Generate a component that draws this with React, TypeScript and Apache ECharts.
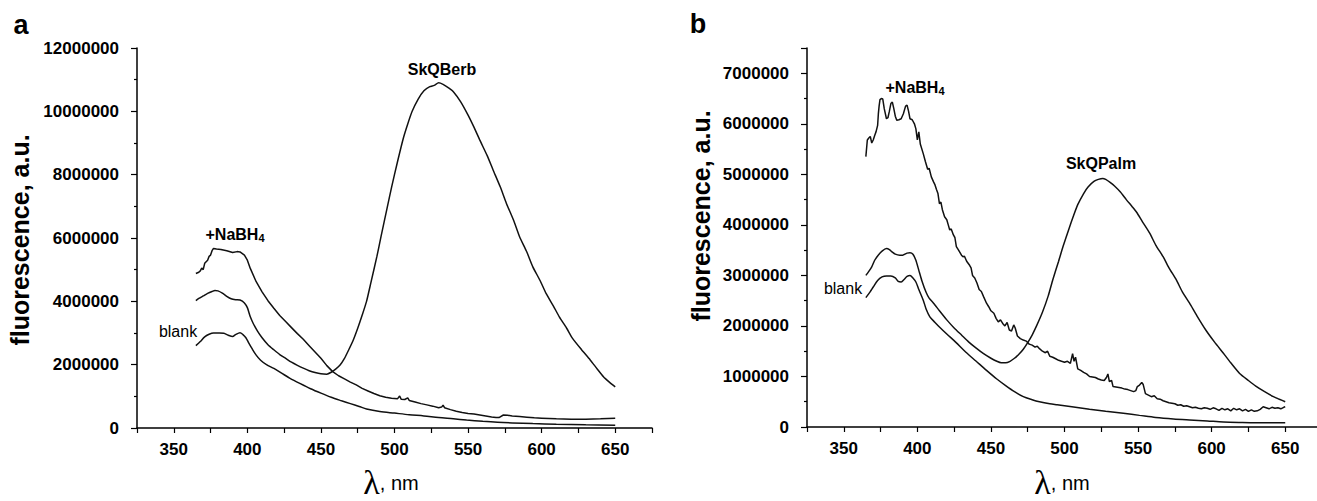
import React, { useEffect, useRef } from "react";
import * as echarts from "echarts";

// values in millions of a.u., wavelength in nm
const aNaBH4: [number, number][] = [[365,4.88],[367,4.92],[368,4.96],[369,5.05],[370,5.0],[371,5.2],[372,5.25],[373,5.3],[374,5.42],[375,5.46],[376,5.6],[377,5.67],[379,5.65],[382,5.64],[386,5.6],[390,5.54],[393,5.57],[395,5.56],[398,5.46],[400,5.3],[402,5.04],[406,4.62],[410,4.3],[414,4.02],[418,3.78],[422,3.55],[426,3.36],[430,3.17],[434,2.98],[438,2.8],[442,2.6],[446,2.4],[450,2.2],[454,1.97],[458,1.78],[462,1.65],[466,1.55],[470,1.45],[474,1.36],[478,1.25],[482,1.17],[486,1.09],[490,1.02],[494,0.97],[498,0.94],[502,0.92],[503.5,1.01],[504.5,0.91],[507,0.9],[509,0.95],[510,0.87],[514,0.82],[518,0.77],[522,0.73],[526,0.69],[530,0.64],[532,0.66],[533,0.72],[534,0.64],[538,0.58],[542,0.53],[546,0.49],[550,0.46],[554,0.44],[558,0.41],[562,0.38],[566,0.35],[569,0.33],[571,0.33],[574,0.41],[577,0.4],[580,0.38],[585,0.36],[590,0.34],[595,0.32],[600,0.31],[610,0.29],[620,0.28],[630,0.28],[640,0.29],[650,0.31]];
const aBerb: [number, number][] = [[365,4.02],[367,4.09],[370,4.17],[373,4.25],[376,4.31],[378,4.34],[380,4.33],[383,4.26],[386,4.16],[389,4.08],[392,4.05],[395,4.04],[398,3.95],[400,3.8],[402,3.51],[404,3.3],[407,3.05],[410,2.85],[414,2.63],[418,2.47],[422,2.32],[426,2.2],[430,2.08],[434,1.98],[438,1.89],[442,1.81],[446,1.75],[450,1.71],[454,1.7],[457,1.76],[460,1.86],[463,1.99],[466,2.2],[469,2.48],[472,2.78],[475,3.15],[478,3.56],[481,4.0],[484,4.6],[488,5.41],[491,6.08],[495,6.95],[498,7.6],[502,8.4],[506,9.15],[509,9.6],[512,10.0],[516,10.38],[520,10.65],[524,10.78],[527,10.82],[530,10.9],[533,10.85],[537,10.73],[540,10.62],[545,10.3],[550,9.88],[554,9.5],[558,9.09],[563,8.6],[567,8.15],[572,7.6],[576,7.1],[581,6.55],[585,6.04],[590,5.55],[594,5.09],[599,4.65],[603,4.25],[608,3.85],[612,3.51],[617,3.15],[621,2.83],[627,2.48],[633,2.15],[638,1.85],[642,1.62],[646,1.45],[650,1.3]];
const aBlank: [number, number][] = [[365,2.6],[368,2.73],[371,2.88],[374,2.96],[377,3.0],[381,3.0],[384,2.99],[387,2.93],[390,2.89],[392,2.95],[395,3.01],[397,2.95],[399,2.85],[401,2.68],[403,2.52],[406,2.3],[409,2.14],[413,2.0],[418,1.88],[423,1.74],[429,1.57],[436,1.4],[443,1.24],[450,1.1],[457,0.97],[464,0.86],[470,0.77],[476,0.68],[481,0.6],[490,0.52],[500,0.47],[510,0.42],[520,0.38],[530,0.33],[540,0.29],[549,0.25],[560,0.21],[570,0.18],[580,0.16],[594,0.14],[610,0.12],[630,0.1],[650,0.09]];

const bNaBH4: [number, number][] = [[365,5.35],[366,5.68],[367,5.72],[368,5.75],[369,5.62],[370,5.68],[371,5.77],[372,5.85],[373,5.97],[373.5,6.2],[374,6.35],[374.6,6.48],[375.5,6.5],[376.5,6.49],[377.5,6.3],[379,6.1],[380,6.12],[381,6.25],[382,6.4],[383,6.43],[384,6.3],[385,6.15],[386,6.07],[387.5,6.08],[389,6.1],[390.5,6.2],[392,6.35],[393,6.37],[394,6.25],[395,6.1],[396.5,6.08],[398,6.0],[399,5.9],[400,5.68],[401,5.84],[402,5.6],[404,5.41],[405.5,5.25],[407,5.1],[408,5.12],[409.5,4.95],[411,4.85],[412,4.79],[413,4.7],[414,4.62],[415,4.42],[416,4.45],[417,4.3],[418.5,4.16],[420,4.1],[421,4.0],[422,3.9],[423,3.92],[424.5,3.8],[425.5,3.75],[426.5,3.57],[428,3.5],[430,3.4],[431,3.37],[432,3.38],[433.5,3.28],[435.5,3.2],[436.5,3.15],[437.5,3.0],[439,2.95],[440.5,2.85],[442,2.72],[443.5,2.68],[445,2.58],[447,2.45],[448.5,2.38],[450,2.3],[452,2.25],[453.5,2.15],[455,2.08],[456.5,2.12],[458,2.05],[459.5,2.0],[461,2.07],[462.5,1.92],[464,1.9],[465.5,2.02],[466.5,1.96],[468,1.8],[470,1.75],[472,1.72],[474,1.7],[476,1.64],[478,1.62],[480,1.58],[481.5,1.6],[483,1.55],[485,1.5],[487,1.47],[488.5,1.5],[490,1.4],[492,1.38],[494,1.35],[496,1.32],[498,1.3],[500,1.28],[502,1.3],[504,1.26],[505.5,1.45],[506.5,1.3],[507.5,1.38],[509,1.15],[511,1.12],[513,1.08],[515,1.05],[517,1.0],[519,0.99],[521,0.98],[523,0.95],[525,0.93],[527,0.92],[528.5,0.98],[529.5,1.05],[530.5,0.9],[532,0.92],[533,0.8],[535,0.79],[537,0.78],[539,0.77],[541,0.75],[543,0.74],[545,0.72],[547,0.7],[548.5,0.72],[549.5,0.8],[551,0.83],[552.5,0.88],[553.5,0.84],[555,0.66],[557,0.63],[559,0.6],[561,0.62],[563,0.56],[565,0.55],[567,0.52],[569,0.5],[571,0.48],[573,0.47],[575,0.46],[577,0.43],[579,0.44],[581,0.41],[583,0.42],[585,0.4],[587,0.38],[589,0.39],[591,0.37],[593,0.36],[595,0.38],[597,0.37],[599,0.35],[601,0.38],[603,0.36],[605,0.33],[607,0.37],[609,0.34],[611,0.36],[613,0.32],[615,0.37],[617,0.34],[619,0.36],[621,0.32],[623,0.35],[625,0.31],[627,0.34],[629,0.31],[631,0.32],[633,0.35],[635,0.4],[637,0.38],[639,0.36],[641,0.39],[643,0.37],[645,0.38],[647,0.36],[649,0.39],[650,0.4]];
const bPalm: [number, number][] = [[365,3.0],[367,3.08],[369,3.17],[371,3.3],[373.4,3.4],[376,3.48],[379,3.53],[381,3.51],[383,3.46],[385,3.42],[388,3.4],[390,3.4],[393,3.44],[395,3.45],[397,3.42],[399,3.3],[401,3.1],[403,2.9],[406,2.66],[408,2.55],[411,2.45],[415,2.3],[420,2.12],[425,1.96],[430,1.82],[435,1.68],[440,1.56],[445,1.45],[450,1.36],[454,1.3],[457,1.27],[460,1.27],[463,1.3],[466,1.36],[469,1.44],[472,1.54],[475,1.67],[478,1.82],[481,2.0],[485,2.27],[489,2.6],[492,2.91],[496,3.28],[499,3.57],[503,3.92],[506,4.17],[509,4.4],[513,4.62],[516,4.75],[520,4.86],[523,4.9],[526,4.92],[528,4.9],[531,4.84],[534,4.77],[538,4.65],[542,4.5],[546,4.36],[549,4.25],[553,4.06],[558,3.83],[562,3.6],[567,3.37],[571,3.15],[576,2.91],[580,2.68],[585,2.45],[590,2.2],[596,1.92],[602,1.68],[608,1.46],[613,1.27],[619,1.06],[625,0.92],[630,0.81],[636,0.7],[642,0.6],[646,0.55],[650,0.5]];
const bBlank: [number, number][] = [[365,2.56],[368,2.68],[370,2.77],[373,2.9],[376,2.97],[379,2.99],[382,2.99],[385,2.95],[387,2.88],[389,2.87],[391,2.92],[393,2.98],[395,3.0],[397,2.95],[399,2.87],[401,2.72],[404,2.51],[406,2.33],[408.5,2.18],[412,2.07],[415,1.98],[420,1.84],[426,1.68],[433,1.48],[440,1.3],[447,1.12],[454,0.95],[460,0.82],[466,0.7],[472,0.6],[478,0.54],[483,0.5],[490,0.46],[495,0.44],[505,0.4],[517,0.35],[528,0.31],[540,0.27],[551,0.23],[562,0.19],[574,0.16],[585,0.14],[597,0.12],[608,0.1],[620,0.09],[630,0.085],[650,0.085]];

const xTickLabels = [350, 400, 450, 500, 550, 600, 650];
const aYTickLabels = [0, 2000000, 4000000, 6000000, 8000000, 10000000, 12000000];
const bYTickLabels = [0, 1000000, 2000000, 3000000, 4000000, 5000000, 6000000, 7000000];

const SANS = '"Liberation Sans", Arial, Helvetica, sans-serif';
const SERIF = '"Liberation Serif", "Times New Roman", serif';

const toData = (arr: [number, number][]) => arr.map(([x, y]) => [x, y * 1e6]);

export default function App() {
  const ref = useRef<HTMLDivElement>(null);
  useEffect(() => {
    if (!ref.current) return;
    const chart = echarts.init(ref.current, undefined, { renderer: "svg" });

    const xAxis = (gridIndex: number) => ({
      type: "value",
      gridIndex,
      min: 325,
      max: 675,
      interval: 25,
      axisLine: { show: true, onZero: false, lineStyle: { color: "#000", width: 1.5 } },
      axisTick: { show: true, inside: false, length: 5, lineStyle: { color: "#000", width: 1.2 } },
      axisLabel: {
        formatter: (v: number) => (xTickLabels.includes(v) ? String(v) : ""),
        fontSize: 17, fontWeight: "bold", color: "#000", fontFamily: SANS, margin: 13,
      },
      splitLine: { show: false },
    });
    const yAxis = (gridIndex: number, max: number, interval: number, labels: number[]) => ({
      type: "value",
      gridIndex,
      min: 0,
      max,
      interval,
      axisLine: { show: true, onZero: false, lineStyle: { color: "#000", width: 1.5 } },
      axisTick: { show: true, inside: false, length: 6, lineStyle: { color: "#000", width: 1.2 } },
      minorTick: { show: true, splitNumber: 2, length: 3, lineStyle: { color: "#000", width: 1.2 } },
      axisLabel: {
        formatter: (v: number) => (labels.includes(v) ? String(v) : ""),
        fontSize: 17, fontWeight: "bold", color: "#000", fontFamily: SANS, margin: 18,
      },
      splitLine: { show: false },
      minorSplitLine: { show: false },
    });
    const line = (data: [number, number][], xi: number, smooth: number | boolean) => ({
      type: "line",
      xAxisIndex: xi,
      yAxisIndex: xi,
      data: toData(data),
      showSymbol: false,
      symbol: "none",
      smooth,
      lineStyle: { color: "#111", width: 1.5 },
      silent: true,
    });

    const txt = (x: number, y: number, text: string, size: number, weight: string, extra: any = {}) => ({
      type: "text",
      x, y,
      style: { text, fontSize: size, fontWeight: weight, fontFamily: SANS, fill: "#000", align: "center", verticalAlign: "middle", ...extra },
    });
    const nabh = (x: number, y: number) => ({
      type: "text",
      x, y,
      style: {
        text: "{b|+NaBH}{s|4}",
        align: "center",
        verticalAlign: "middle",
        rich: {
          b: { fontSize: 16, fontWeight: "bold", fontFamily: SANS, fill: "#000", lineHeight: 22, verticalAlign: "middle" },
          s: { fontSize: 11, fontWeight: "bold", fontFamily: SANS, fill: "#000", lineHeight: 22, verticalAlign: "bottom", padding: [0, 0, 2, 0] },
        },
      },
    });
    const lambda = (x: number, y: number) => ({
      type: "text",
      x, y,
      style: {
        text: "{l|λ}{n|, nm}",
        align: "center",
        verticalAlign: "middle",
        rich: {
          l: { fontSize: 34, fontFamily: SERIF, fill: "#000", lineHeight: 36, verticalAlign: "bottom" },
          n: { fontSize: 20, fontFamily: SANS, fill: "#000", lineHeight: 36, verticalAlign: "bottom", padding: [0, 0, 6, 0] },
        },
      },
    });
    const ytitle = (x: number, y: number) => ({
      type: "text",
      x, y,
      rotation: Math.PI / 2,
      style: { text: "fluorescence, a.u.", fontSize: 25, fontWeight: "bold", fontFamily: SANS, fill: "#000", align: "center", verticalAlign: "middle" },
    });

    chart.setOption({
      animation: false,
      backgroundColor: "#fff",
      grid: [
        { left: 137, top: 48, width: 515, height: 380 },
        { left: 807, top: 48, width: 515, height: 379 },
      ],
      xAxis: [xAxis(0), xAxis(1)],
      yAxis: [yAxis(0, 12000000, 2000000, aYTickLabels), yAxis(1, 7500000, 1000000, bYTickLabels)],
      series: [
        line(aNaBH4, 0, false),
        line(aBerb, 0, 0.2),
        line(aBlank, 0, 0.3),
        line(bNaBH4, 1, false),
        line(bPalm, 1, 0.2),
        line(bBlank, 1, 0.3),
      ],
      graphic: [
        txt(21, 25, "a", 27, "bold"),
        txt(698, 24, "b", 27, "bold"),
        ytitle(20, 240),
        ytitle(701, 216),
        lambda(391, 481),
        lambda(1062, 481),
        txt(442, 69, "SkQBerb", 16, "bold"),
        nabh(235, 234),
        txt(178, 331, "blank", 16, "normal"),
        nabh(915, 87),
        txt(1101, 163, "SkQPalm", 16, "bold"),
        txt(843, 288, "blank", 16, "normal"),
      ],
    });
    return () => chart.dispose();
  }, []);
  return (
    <div style={{ position: "fixed", left: 0, top: 0, width: 1317, height: 501, overflow: "hidden", background: "#fff" }}>
      <div ref={ref} style={{ width: 1330, height: 501 }} />
    </div>
  );
}
